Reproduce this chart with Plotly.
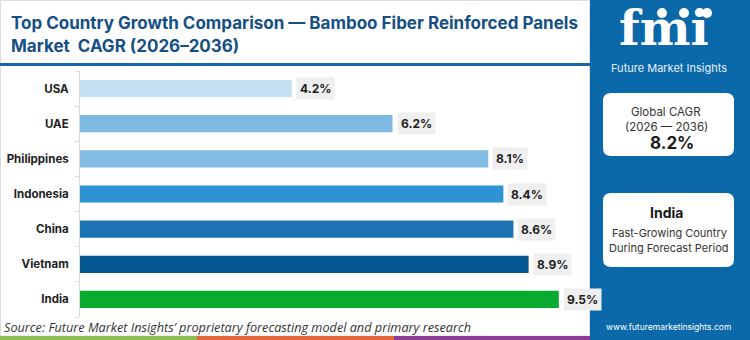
import plotly.graph_objects as go
import re

countries = ["USA", "UAE", "Philippines", "Indonesia", "China", "Vietnam", "India"]
cagr = [4.2, 6.2, 8.1, 8.4, 8.6, 8.9, 9.5]
bar_colors = ["#c6e1f3", "#7db9e1", "#82bce2", "#2e93d3", "#1c75b2", "#03568f", "#08ab2f"]
value_labels = [f"{v:.1f}%" for v in cagr]

W, H = 750, 340
PANEL = "#0b69a9"
TITLE_C = "#154f84"

def px(x):
    return x / W

def py(y):
    return 1 - y / H

fig = go.Figure()
fig.add_trace(go.Bar(
    x=cagr, y=countries, orientation="h",
    marker=dict(color=bar_colors, line=dict(width=0)),
    width=0.49, hoverinfo="skip", cliponaxis=False,
))

annotations = []
for c, v, t in zip(countries, cagr, value_labels):
    annotations.append(dict(
        x=v, y=c, xref="x", yref="y", text=f"<b>{t}</b>", showarrow=False,
        xanchor="left", yanchor="middle", xshift=4, bgcolor="#efefef", borderpad=3,
        font=dict(family="Inter", size=12, color="#222222"),
    ))

def txt(x, y, text, size, color="#333333", anchor="center", family="Inter"):
    return dict(x=px(x), y=py(y), xref="paper", yref="paper", xanchor=anchor, yanchor="middle",
                text=text, showarrow=False, font=dict(family=family, size=size, color=color))

annotations += [
    txt(9, 23, "<b>Top Country Growth Comparison — Bamboo Fiber Reinforced Panels</b>", 17, TITLE_C, "left"),
    txt(9, 46, "<b>Market  CAGR (2026–2036)</b>", 17, TITLE_C, "left"),
    txt(2, 327, "<i>Source: Future Market Insights’ proprietary forecasting model and primary research</i>",
        12.7, "#333333", "left", "Open Sans"),
    # logo
    txt(664, 28, "<b>fmi</b>", 48, "white", "center", "DejaVu Serif"),
    txt(669, 68, "Future Market Insights", 11, "#e6f0f8"),
    # box 1
    txt(666, 112, "Global CAGR", 11.5),
    txt(666, 127, "(2026 — 2036)", 11.5),
    txt(672, 143, "<b>8.2%</b>", 17, "#1a1a1a"),
    # box 2
    txt(666, 212, "<b>India</b>", 14, "#1a1a1a"),
    txt(669, 233, "Fast-Growing Country", 11),
    txt(669, 248, "During Forecast Period", 11),
    txt(668, 327, "www.futuremarketinsights.com", 8.5, "white"),
]

def rect(x0, y0, x1, y1, **kw):
    d = dict(type="rect", xref="paper", yref="paper", x0=px(x0), x1=px(x1), y0=py(y1), y1=py(y0),
             layer="below")
    d.update(kw)
    return d

shapes = [
    rect(0.5, 0.5, 589.5, 336, line=dict(color="#dddddd", width=1), fillcolor="rgba(0,0,0,0)"),
    rect(590, 0, 750, 340, line=dict(width=0), fillcolor=PANEL),
    rect(0, 63, 590, 66, line=dict(width=0), fillcolor="#1766a6"),
    rect(0, 336, 197, 340, line=dict(width=0), fillcolor="#8cbf4f"),
    rect(197, 336, 394, 340, line=dict(width=0), fillcolor="#e4673c"),
    rect(394, 336, 590, 340, line=dict(width=0), fillcolor="#8d3b93"),
]

def rounded(x0, y0, x1, y1, r=8):
    path = (f"M {x0+r},{y0} L {x1-r},{y0} Q {x1},{y0} {x1},{y0+r} L {x1},{y1-r} Q {x1},{y1} {x1-r},{y1} "
            f"L {x0+r},{y1} Q {x0},{y1} {x0},{y1-r} L {x0},{y0+r} Q {x0},{y0} {x0+r},{y0} Z")
    def conv(m):
        a, b = float(m.group(1)), float(m.group(2))
        return f"{px(a):.5f},{py(b):.5f}"
    path = re.sub(r"(-?\d+\.?\d*),(-?\d+\.?\d*)", conv, path)
    return dict(type="path", xref="paper", yref="paper", path=path,
                fillcolor="white", line=dict(width=0), layer="below")

shapes.append(rounded(603, 93, 734, 156))
shapes.append(rounded(603, 193, 734, 267))

# logo stripes and globes (drawn above)
for y in range(13, 54, 3):
    shapes.append(dict(type="line", xref="paper", yref="paper", x0=px(610), x1=px(728),
                       y0=py(y), y1=py(y), line=dict(color=PANEL, width=1)))
for cx in (662, 684, 707):
    shapes.append(dict(type="circle", xref="paper", yref="paper", x0=px(cx-5), x1=px(cx+5),
                       y0=py(18), y1=py(8), fillcolor="white", line=dict(width=0)))

fig.update_layout(
    width=W, height=H, margin=dict(l=0, r=0, t=0, b=0),
    paper_bgcolor="white", plot_bgcolor="white",
    showlegend=False,
    xaxis=dict(domain=[px(80), px(580)], range=[0, 9.92], visible=False, fixedrange=True),
    yaxis=dict(domain=[py(317), py(71)], autorange="reversed", categoryorder="array",
               categoryarray=countries, showline=True, linecolor="#d9d9d9", linewidth=1,
               ticks="outside", ticklen=4, tickcolor="#d9d9d9", tickson="boundaries",
               tickfont=dict(family="Inter", size=11.5, color="#222222"),
               ticklabelstandoff=8, showgrid=False, zeroline=False, automargin=False,
               fixedrange=True,
               tickvals=countries, ticktext=[f"<b>{c}</b>" for c in countries]),
    annotations=annotations, shapes=shapes, font=dict(family="Inter"),
)

fig.write_html("out.html")
